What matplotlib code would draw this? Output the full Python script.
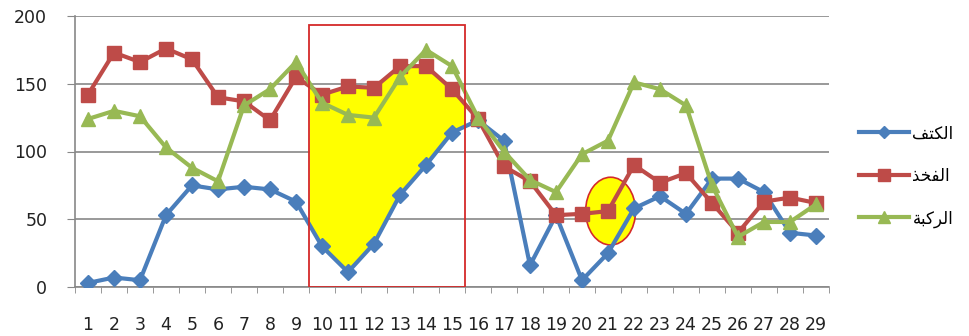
import matplotlib
matplotlib.use("Agg")
import matplotlib.pyplot as plt
from matplotlib.patches import Rectangle, Ellipse
import numpy as np

categories = list(range(1, 30))
shoulder = [3, 7, 5, 53, 75, 72, 74, 72, 63, 30, 11, 32, 68, 90, 114, 123, 108, 16, 53, 5, 25, 58, 67, 54, 80, 80, 70, 40, 38]
thigh = [142, 173, 166, 176, 168, 140, 137, 123, 155, 142, 148, 147, 163, 163, 146, 124, 89, 78, 53, 54, 56, 90, 77, 84, 62, 40, 63, 66, 62]
knee = [124, 130, 126, 103, 88, 78, 134, 146, 166, 136, 127, 125, 155, 175, 163, 125, 100, 79, 70, 98, 108, 151, 146, 134, 75, 37, 48, 48, 61]

# Arabic labels written in presentation forms (visual order) so they render joined
lbl_shoulder = "\uFED2\uFE98\uFEDC\uFEDF\uFE8D"   # الكتف
lbl_thigh = "\uFEAC\uFEA8\uFED4\uFEDF\uFE8D"      # الفخذ
lbl_knee = "\uFE94\uFE92\uFEDB\uFEAE\uFEDF\uFE8D"  # الركبة

yticks = [0, 50, 100, 150, 200]

c_blue = "#4A7EBB"
c_red = "#BE4B48"
c_green = "#98B954"

fig = plt.figure(figsize=(9.69, 3.36), dpi=100)
ax = fig.add_axes([75/969, 1-287/336, (829-75)/969, (287-16)/336])

x = np.array(categories, dtype=float)

# yellow highlighted region between shoulder and thigh curves inside rectangle
xs = np.linspace(9.5, 15.5, 200)
lo = np.interp(xs, x, shoulder)
hi = np.interp(xs, x, thigh)
ax.fill_between(xs, lo, hi, color="#FFFF00", zorder=1, linewidth=0)
ax.add_patch(Rectangle((9.5, 0), 6.0, 193, fill=False, edgecolor="#D42A2A", linewidth=1.3, zorder=4))
ax.add_patch(Ellipse((21.1, 56), 1.92, 50, facecolor="#FFFF00", edgecolor="#D42A2A", linewidth=1.2, zorder=1))

ax.plot(x, shoulder, color=c_blue, marker="D", markersize=8, linewidth=3, label=lbl_shoulder, zorder=3)
ax.plot(x, thigh, color=c_red, marker="s", markersize=10, linewidth=3, label=lbl_thigh, zorder=3)
ax.plot(x, knee, color=c_green, marker="^", markersize=10, linewidth=3, label=lbl_knee, zorder=3)

ax.set_xlim(0.5, 29.5)
ax.set_ylim(0, 200)
ax.set_yticks(yticks)
ax.set_xticks(x)
ax.set_xticklabels([str(c) for c in categories])
ax.set_xticks(np.arange(0.5, 30, 1), minor=True)
ax.tick_params(axis="x", which="major", length=0, pad=21, labelsize=12.5)
ax.tick_params(axis="x", which="minor", length=4.5, color="#888888", direction="out")
ax.tick_params(axis="y", length=6, color="#888888", pad=14, labelsize=12.5)
for lbl in ax.get_xticklabels() + ax.get_yticklabels():
    lbl.set_color("#222222")

ax.grid(axis="y", color="#888888", linewidth=1.2, zorder=0)
ax.set_axisbelow(True)
for s in ["top", "right"]:
    ax.spines[s].set_visible(False)
for s in ["left", "bottom"]:
    ax.spines[s].set_color("#888888")
    ax.spines[s].set_linewidth(1.2)

leg = ax.legend(loc="center left", bbox_to_anchor=(1.02, 0.41), frameon=False,
                fontsize=12, handlelength=3.0, labelspacing=1.47, markerscale=0.8,
                handletextpad=0.2)

fig.savefig("out.png", dpi=100)
